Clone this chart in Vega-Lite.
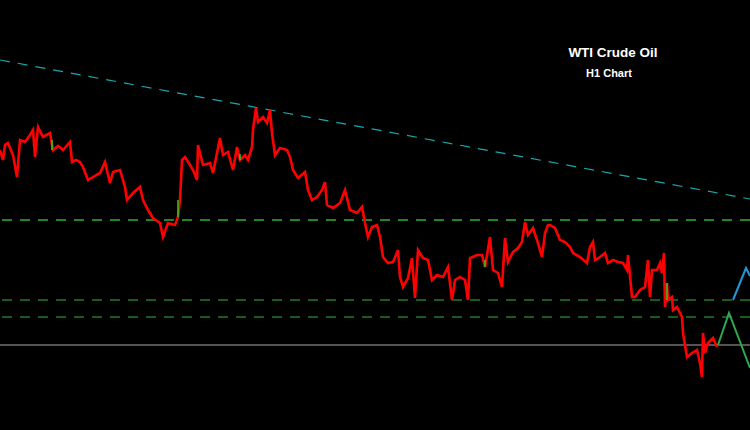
{
  "$schema": "https://vega.github.io/schema/vega-lite/v6.json",
  "width": 750,
  "height": 430,
  "autosize": {"type": "none"},
  "padding": 0,
  "background": "#000000",
  "config": {"view": {"stroke": null}},
  "datasets": {
    "price": [
      {"t":0,"p":85.0},{"t":3,"p":84.0},{"t":5,"p":85.5},{"t":8,"p":85.7},{"t":13,"p":84.5},{"t":17,"p":82.3},{"t":20,"p":86.0},{"t":25,"p":85.8},{"t":30,"p":86.5},{"t":33,"p":87.0},{"t":35,"p":84.3},{"t":38,"p":87.3},{"t":43,"p":86.3},{"t":50,"p":86.7},{"t":53,"p":85.0},{"t":58,"p":85.4},{"t":63,"p":85.0},{"t":70,"p":85.8},{"t":72,"p":83.8},{"t":76,"p":84.0},{"t":80,"p":83.8},{"t":83,"p":83.3},{"t":88,"p":82.0},{"t":93,"p":82.3},{"t":100,"p":82.7},{"t":105,"p":83.8},{"t":110,"p":81.7},{"t":113,"p":82.8},{"t":120,"p":83.0},{"t":125,"p":81.3},{"t":127,"p":80.0},{"t":133,"p":80.7},{"t":140,"p":81.3},{"t":143,"p":80.0},{"t":148,"p":79.0},{"t":153,"p":78.2},{"t":160,"p":77.7},{"t":163,"p":76.3},{"t":168,"p":77.7},{"t":175,"p":77.5},{"t":178,"p":78.3},{"t":180,"p":80.0},{"t":182,"p":84.0},{"t":185,"p":84.3},{"t":190,"p":83.5},{"t":193,"p":83.0},{"t":197,"p":82.0},{"t":198,"p":85.5},{"t":203,"p":83.5},{"t":210,"p":83.7},{"t":213,"p":82.7},{"t":217,"p":84.7},{"t":220,"p":86.2},{"t":223,"p":84.5},{"t":228,"p":84.8},{"t":233,"p":83.0},{"t":237,"p":85.3},{"t":240,"p":84.0},{"t":245,"p":84.5},{"t":248,"p":84.0},{"t":252,"p":85.3},{"t":253,"p":87.0},{"t":256,"p":89.2},{"t":258,"p":87.8},{"t":263,"p":88.3},{"t":267,"p":87.7},{"t":270,"p":89.0},{"t":272,"p":86.7},{"t":275,"p":84.5},{"t":280,"p":85.2},{"t":287,"p":85.0},{"t":290,"p":84.3},{"t":293,"p":83.0},{"t":298,"p":82.2},{"t":305,"p":82.8},{"t":308,"p":81.0},{"t":312,"p":80.0},{"t":317,"p":80.3},{"t":322,"p":81.0},{"t":325,"p":81.8},{"t":327,"p":79.5},{"t":333,"p":79.2},{"t":340,"p":79.7},{"t":345,"p":81.0},{"t":350,"p":79.0},{"t":357,"p":78.7},{"t":362,"p":79.3},{"t":365,"p":77.7},{"t":368,"p":76.3},{"t":372,"p":77.3},{"t":377,"p":77.5},{"t":380,"p":76.3},{"t":383,"p":74.3},{"t":388,"p":73.7},{"t":393,"p":73.8},{"t":398,"p":75.0},{"t":400,"p":72.3},{"t":403,"p":71.3},{"t":408,"p":72.2},{"t":412,"p":74.2},{"t":415,"p":70.2},{"t":418,"p":75.0},{"t":423,"p":74.2},{"t":428,"p":74.0},{"t":432,"p":72.0},{"t":437,"p":72.5},{"t":443,"p":72.3},{"t":448,"p":73.3},{"t":452,"p":70.0},{"t":455,"p":72.0},{"t":460,"p":72.3},{"t":465,"p":72.0},{"t":468,"p":70.0},{"t":470,"p":74.2},{"t":477,"p":74.5},{"t":482,"p":74.5},{"t":485,"p":73.3},{"t":490,"p":76.3},{"t":493,"p":73.0},{"t":498,"p":72.7},{"t":502,"p":71.3},{"t":505,"p":76.2},{"t":508,"p":73.8},{"t":513,"p":74.8},{"t":518,"p":75.2},{"t":522,"p":75.8},{"t":525,"p":77.8},{"t":528,"p":76.5},{"t":533,"p":77.2},{"t":537,"p":76.0},{"t":542,"p":74.3},{"t":545,"p":76.7},{"t":548,"p":77.5},{"t":550,"p":77.5},{"t":555,"p":77.2},{"t":560,"p":76.0},{"t":565,"p":75.8},{"t":570,"p":75.3},{"t":573,"p":74.7},{"t":580,"p":74.3},{"t":587,"p":73.7},{"t":590,"p":75.3},{"t":593,"p":75.8},{"t":595,"p":74.0},{"t":600,"p":74.3},{"t":605,"p":74.7},{"t":608,"p":73.7},{"t":613,"p":74.0},{"t":618,"p":73.8},{"t":623,"p":73.7},{"t":627,"p":73.0},{"t":628,"p":74.5},{"t":632,"p":70.3},{"t":635,"p":70.3},{"t":640,"p":71.0},{"t":645,"p":71.3},{"t":648,"p":74.0},{"t":650,"p":70.3},{"t":652,"p":73.0},{"t":657,"p":73.0},{"t":660,"p":73.7},{"t":662,"p":72.7},{"t":664,"p":74.7},{"t":665,"p":69.3},{"t":667,"p":71.7},{"t":668,"p":70.0},{"t":672,"p":70.3},{"t":673,"p":69.0},{"t":677,"p":69.3},{"t":682,"p":68.3},{"t":683,"p":66.7},{"t":687,"p":64.3},{"t":692,"p":64.7},{"t":697,"p":65.0},{"t":700,"p":63.7},{"t":702,"p":62.3},{"t":703,"p":66.7},{"t":705,"p":64.7},{"t":708,"p":65.7},{"t":713,"p":66.2},{"t":717,"p":65.3}
    ],
    "upCandles": [
      {"t":178,"lo":78.3,"hi":80.0},{"t":667,"lo":70.0,"hi":71.7},{"t":52,"lo":85.0,"hi":86.0},{"t":485,"lo":73.3,"hi":74.0},{"t":240,"lo":84.0,"hi":84.6}
    ],
    "trend": [{"t":0,"p":94.0},{"t":750,"p":80.1}],
    "levels": [{"p":78.0,"c":"#2fb02f"},{"p":70.0,"c":"#237a23"},{"p":68.3,"c":"#237a23"}],
    "support": [{"p":65.5}],
    "zigGreen": [{"t":718,"p":65.5},{"t":729,"p":68.7},{"t":750,"p":63.2}],
    "zigBlue": [{"t":733,"p":70.0},{"t":746,"p":73.2},{"t":750,"p":72.4}],
    "labels": [
      {"t":613,"p":94.7,"label":"WTI Crude Oil","size":13.5},
      {"t":609,"p":92.6,"label":"H1 Chart","size":11}
    ]
  },
  "layer": [
    {
      "data": {"name": "levels"},
      "mark": {"type": "rule", "strokeWidth": 1.5, "strokeDash": [10, 8]},
      "encoding": {
        "y": {"field": "p", "type": "quantitative", "scale": {"domain": [57, 100]}, "axis": null},
        "color": {"field": "c", "type": "nominal", "scale": null}
      }
    },
    {
      "data": {"name": "support"},
      "mark": {"type": "rule", "strokeWidth": 1.5, "color": "#707070"},
      "encoding": {
        "y": {"field": "p", "type": "quantitative", "scale": {"domain": [57, 100]}, "axis": null}
      }
    },
    {
      "data": {"name": "trend"},
      "mark": {"type": "line", "strokeWidth": 1.2, "color": "#1aa7b0", "strokeDash": [10, 8]},
      "encoding": {
        "x": {"field": "t", "type": "quantitative", "scale": {"domain": [0, 750]}, "axis": null},
        "y": {"field": "p", "type": "quantitative", "scale": {"domain": [57, 100]}, "axis": null}
      }
    },
    {
      "data": {"name": "price"},
      "mark": {"type": "line", "strokeWidth": 2.6, "color": "#ff0000", "strokeJoin": "miter"},
      "encoding": {
        "x": {"field": "t", "type": "quantitative", "scale": {"domain": [0, 750]}, "axis": null},
        "y": {"field": "p", "type": "quantitative", "scale": {"domain": [57, 100]}, "axis": null}
      }
    },
    {
      "data": {"name": "upCandles"},
      "mark": {"type": "rule", "strokeWidth": 1.5, "color": "#22cc22"},
      "encoding": {
        "x": {"field": "t", "type": "quantitative", "scale": {"domain": [0, 750]}, "axis": null},
        "y": {"field": "lo", "type": "quantitative", "scale": {"domain": [57, 100]}, "axis": null},
        "y2": {"field": "hi"}
      }
    },
    {
      "data": {"name": "zigGreen"},
      "mark": {"type": "line", "strokeWidth": 2, "color": "#2fa84f"},
      "encoding": {
        "x": {"field": "t", "type": "quantitative", "scale": {"domain": [0, 750]}, "axis": null},
        "y": {"field": "p", "type": "quantitative", "scale": {"domain": [57, 100]}, "axis": null}
      }
    },
    {
      "data": {"name": "zigBlue"},
      "mark": {"type": "line", "strokeWidth": 2, "color": "#1e9ad8"},
      "encoding": {
        "x": {"field": "t", "type": "quantitative", "scale": {"domain": [0, 750]}, "axis": null},
        "y": {"field": "p", "type": "quantitative", "scale": {"domain": [57, 100]}, "axis": null}
      }
    },
    {
      "data": {"name": "labels"},
      "mark": {"type": "text", "color": "#ffffff", "font": "Liberation Sans", "fontWeight": "bold", "align": "center", "baseline": "middle"},
      "encoding": {
        "x": {"field": "t", "type": "quantitative", "scale": {"domain": [0, 750]}, "axis": null},
        "y": {"field": "p", "type": "quantitative", "scale": {"domain": [57, 100]}, "axis": null},
        "text": {"field": "label"},
        "size": {"field": "size", "type": "quantitative", "scale": null}
      }
    }
  ]
}
